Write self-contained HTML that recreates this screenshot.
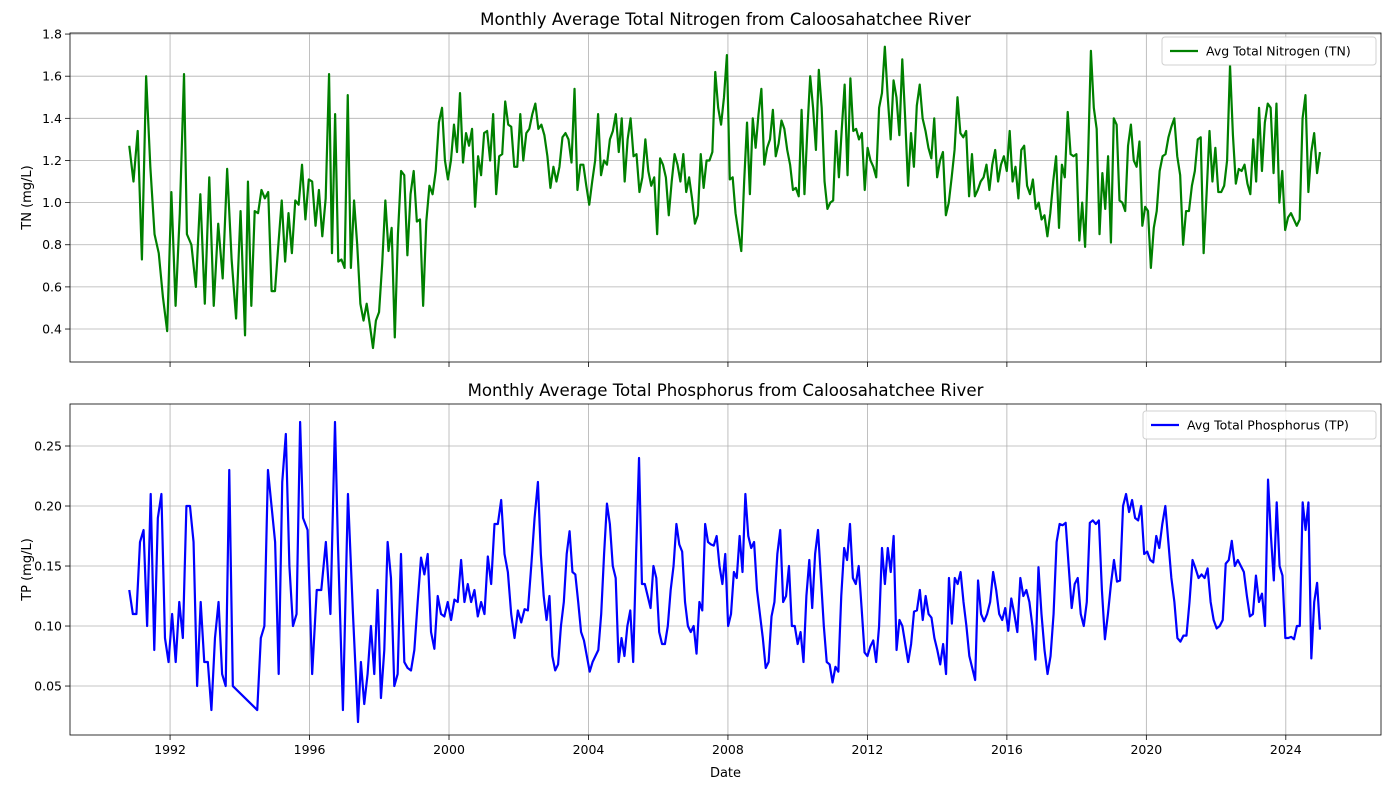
<!DOCTYPE html>
<html><head><meta charset="utf-8">
<style>
html,body{margin:0;padding:0;background:#fff;}
svg{display:block;font-family:"DejaVu Sans","Liberation Sans",sans-serif;}
</style></head>
<body>
<svg id="chart" width="1389" height="790" viewBox="0 0 1389 790" xmlns="http://www.w3.org/2000/svg"></svg>
<script>
// ---- data: monthly readings grouped into segments ending at known dates ----
const tnFirstDate = 1990.83;
const tnSegEnds = [1992.4, 1994.15, 1996.56, 1997.82, 1999.8, 2003.6, 2005.97, 2007.97, 2012.5, 2014.25, 2018.41, 2020.13, 2022.4, 2024.98];
const tnSegValues = [
 [1.27,1.10,1.34,0.73,1.60,1.17,0.85,0.76,0.55,0.39,1.05,0.51,0.95,1.61],
 [0.85,0.80,0.60,1.04,0.52,1.12,0.51,0.90,0.64,1.16,0.73,0.45,0.96,0.37],
 [1.10,0.51,0.96,0.95,1.06,1.02,1.05,0.58,0.58,0.80,1.01,0.72,0.95,0.76,1.01,0.99,1.18,0.92,1.11,1.10,0.89,1.06,0.84,1.02,1.61],
 [0.76,1.42,0.72,0.73,0.69,1.51,0.69,1.01,0.80,0.52,0.44,0.52,0.42,0.31],
 [0.44,0.48,0.71,1.01,0.77,0.88,0.36,0.85,1.15,1.13,0.75,1.04,1.15,0.91,0.92,0.51,0.91,1.08,1.04,1.15,1.38,1.45],
 [1.20,1.11,1.20,1.37,1.24,1.52,1.19,1.33,1.27,1.35,0.98,1.22,1.13,1.33,1.34,1.20,1.42,1.04,1.22,1.23,1.48,1.37,1.36,1.17,1.17,1.42,1.20,1.33,1.35,1.42,1.47,1.35,1.37,1.32,1.22,1.07,1.17,1.10,1.17,1.31,1.33,1.30,1.19,1.54],
 [1.06,1.18,1.18,1.08,0.99,1.10,1.20,1.42,1.13,1.20,1.18,1.30,1.34,1.42,1.24,1.40,1.10,1.30,1.40,1.22,1.23,1.05,1.12,1.30,1.15,1.08,1.12,0.85],
 [1.21,1.18,1.12,0.94,1.10,1.23,1.18,1.10,1.23,1.05,1.12,1.02,0.90,0.94,1.23,1.07,1.20,1.20,1.24,1.62,1.45,1.37,1.50,1.70],
 [1.11,1.12,0.95,0.86,0.77,1.10,1.38,1.04,1.40,1.26,1.42,1.54,1.18,1.26,1.30,1.44,1.22,1.28,1.39,1.35,1.25,1.18,1.06,1.07,1.03,1.44,1.04,1.34,1.60,1.45,1.25,1.63,1.45,1.10,0.97,1.00,1.01,1.34,1.12,1.35,1.56,1.13,1.59,1.34,1.35,1.30,1.33,1.06,1.26,1.20,1.17,1.12,1.45,1.52,1.74],
 [1.50,1.30,1.58,1.50,1.32,1.68,1.40,1.08,1.33,1.17,1.46,1.56,1.40,1.34,1.26,1.21,1.40,1.12,1.20,1.24,0.94],
 [1.00,1.12,1.25,1.50,1.33,1.31,1.34,1.03,1.23,1.03,1.06,1.10,1.12,1.18,1.06,1.18,1.25,1.10,1.18,1.22,1.15,1.34,1.10,1.17,1.02,1.25,1.27,1.08,1.04,1.11,0.97,1.00,0.92,0.94,0.84,0.95,1.10,1.22,0.88,1.18,1.12,1.43,1.23,1.22,1.23,0.82,1.00,0.79,1.20,1.72],
 [1.45,1.35,0.85,1.14,0.97,1.22,0.81,1.40,1.37,1.01,1.00,0.96,1.27,1.37,1.20,1.17,1.29,0.89,0.98,0.96,0.69],
 [0.88,0.96,1.15,1.22,1.23,1.31,1.36,1.40,1.22,1.13,0.80,0.96,0.96,1.08,1.15,1.30,1.31,0.76,1.04,1.34,1.10,1.26,1.05,1.05,1.08,1.20,1.65],
 [1.32,1.09,1.16,1.15,1.18,1.09,1.04,1.30,1.10,1.45,1.15,1.38,1.47,1.45,1.14,1.47,1.00,1.15,0.87,0.93,0.95,0.92,0.89,0.92,1.40,1.51,1.05,1.24,1.33,1.14,1.24]
];
const tpFirstDate = 1990.83;
const tpGapResumeDate = 1994.5;
const tpSegEnds = [1993.8, 1995.73, 1996.73, 1997.39, 2002.55, 2004.53, 2005.45, 2008.5, 2011.5, 2015.09, 2023.49, 2024.98];
const tpSegValues = [
 [0.13,0.11,0.11,0.17,0.18,0.10,0.21,0.08,0.19,0.21,0.09,0.07,0.11,0.07,0.12,0.09,0.20,0.20,0.17,0.05,0.12,0.07,0.07,0.03,0.09,0.12,0.06,0.05,0.23,0.05],
 [0.03,0.09,0.10,0.23,0.20,0.17,0.06,0.22,0.26,0.15,0.10,0.11,0.27],
 [0.19,0.18,0.06,0.13,0.13,0.17,0.11,0.27],
 [0.17,0.03,0.21,0.11,0.02],
 [0.07,0.035,0.06,0.10,0.06,0.13,0.04,0.08,0.17,0.14,0.05,0.06,0.16,0.07,0.065,0.063,0.08,0.12,0.157,0.143,0.16,0.095,0.081,0.125,0.11,0.108,0.12,0.105,0.122,0.12,0.155,0.12,0.135,0.12,0.13,0.108,0.12,0.11,0.158,0.135,0.185,0.185,0.205,0.16,0.145,0.11,0.09,0.113,0.103,0.114,0.113,0.15,0.19,0.22],
 [0.16,0.125,0.105,0.125,0.075,0.063,0.068,0.10,0.12,0.16,0.179,0.145,0.143,0.12,0.095,0.088,0.075,0.062,0.07,0.075,0.08,0.11,0.16,0.202],
 [0.185,0.15,0.14,0.07,0.09,0.075,0.10,0.113,0.07,0.16,0.24],
 [0.135,0.135,0.125,0.115,0.15,0.14,0.095,0.085,0.085,0.10,0.13,0.15,0.185,0.168,0.162,0.12,0.10,0.095,0.10,0.077,0.12,0.113,0.185,0.17,0.168,0.167,0.175,0.15,0.135,0.16,0.10,0.11,0.145,0.14,0.175,0.145,0.21],
 [0.175,0.165,0.17,0.13,0.11,0.09,0.065,0.07,0.108,0.12,0.16,0.18,0.12,0.125,0.15,0.10,0.10,0.085,0.095,0.07,0.125,0.155,0.115,0.16,0.18,0.14,0.10,0.07,0.068,0.053,0.066,0.062,0.125,0.165,0.155,0.185],
 [0.14,0.135,0.15,0.115,0.078,0.075,0.083,0.088,0.07,0.10,0.165,0.135,0.165,0.145,0.175,0.08,0.105,0.10,0.085,0.07,0.085,0.112,0.113,0.13,0.105,0.125,0.11,0.107,0.09,0.08,0.068,0.085,0.06,0.14,0.102,0.14,0.135,0.145,0.12,0.10,0.075,0.065,0.055],
 [0.138,0.11,0.104,0.11,0.12,0.145,0.13,0.11,0.105,0.115,0.096,0.123,0.11,0.095,0.14,0.125,0.13,0.12,0.10,0.072,0.149,0.11,0.08,0.06,0.075,0.11,0.17,0.185,0.184,0.186,0.15,0.115,0.135,0.14,0.11,0.10,0.12,0.186,0.188,0.185,0.188,0.13,0.089,0.11,0.135,0.155,0.137,0.138,0.20,0.21,0.195,0.205,0.19,0.188,0.20,0.16,0.162,0.155,0.153,0.175,0.165,0.185,0.20,0.17,0.14,0.12,0.09,0.087,0.092,0.092,0.12,0.155,0.148,0.14,0.143,0.14,0.148,0.12,0.105,0.098,0.10,0.105,0.152,0.155,0.171,0.15,0.155,0.15,0.145,0.125,0.108,0.11,0.142,0.12,0.127,0.10,0.222],
 [0.175,0.138,0.203,0.15,0.142,0.09,0.09,0.091,0.089,0.10,0.10,0.203,0.18,0.203,0.073,0.12,0.136,0.097]
];
const xTickYears = [1992,1996,2000,2004,2008,2012,2016,2020,2024];
const tnTicks = [0.4,0.6,0.8,1.0,1.2,1.4,1.6,1.8];
const tpTicks = [0.05,0.10,0.15,0.20,0.25];

// ---- layout ----
const NS = "http://www.w3.org/2000/svg";
const svg = document.getElementById('chart');
const L = 70, R = 1381;
const xMin = 1989.13, xMax = 2026.73;
function xs(t){ return L + (t - xMin) / (xMax - xMin) * (R - L); }
const topP = {y0:33, y1:362, vMin:0.2435, vMax:1.805};
const botP = {y0:404, y1:735, vMin:0.0092, vMax:0.285};
function ys(p, v){ return p.y1 - (v - p.vMin) / (p.vMax - p.vMin) * (p.y1 - p.y0); }
function mk(tag, attrs, parent){ const e = document.createElementNS(NS, tag); for (const k in attrs) e.setAttribute(k, attrs[k]); (parent||svg).appendChild(e); return e; }
function txt(s, attrs, parent){ const e = mk('text', attrs, parent); e.textContent = s; return e; }

function panel(p, ticks, fmt, title, ylabel, name, showXLabels){
  const g = mk('g', {});
  
  
  xTickYears.forEach(yr => {
    const x = xs(yr);
    const gl = mk('line', {x1:x, x2:x, y1:p.y0, y2:p.y1, stroke:'#b0b0b0', 'stroke-width':0.8}, g);
    
    
    mk('line', {x1:x, x2:x, y1:p.y1, y2:p.y1+5, stroke:'#000', 'stroke-width':0.8}, g);
    if (showXLabels){
      const t = txt(String(yr), {x:x, y:p.y1+19, 'font-size':12.5, 'text-anchor':'middle', fill:'#000'}, g);
      
      
    }
  });
  ticks.forEach(v => {
    const y = ys(p, v);
    const gl = mk('line', {x1:L, x2:R, y1:y, y2:y, stroke:'#b0b0b0', 'stroke-width':0.8}, g);
    
    
    mk('line', {x1:L-5, x2:L, y1:y, y2:y, stroke:'#000', 'stroke-width':0.8}, g);
    const t = txt(fmt(v), {x:L-8, y:y+4.5, 'font-size':12.5, 'text-anchor':'end', fill:'#000'}, g);
    
    
  });
  const frame = mk('rect', {x:L, y:p.y0, width:R-L, height:p.y1-p.y0, fill:'none', stroke:'#000', 'stroke-width':0.8}, g);
  
  
  const tt = txt(title, {x:(L+R)/2, y:p.y0-8, 'font-size':16.6, 'text-anchor':'middle', fill:'#000'}, g);
  
  
  const cy = (p.y0+p.y1)/2;
  const yl = txt(ylabel, {x:31, y:cy, 'font-size':13, 'text-anchor':'middle', transform:'rotate(-90 31 '+cy+')', fill:'#000'}, g);
  
  
  return g;
}

// segment k runs from (previous end + 1 month) to its end date; optional override for segment 1 start (data gap)
function line(p, segVals, segEnds, firstDate, resumeDate, color, name){
  const pts = [];
  let start = firstDate;
  segVals.forEach((vals, k) => {
    if (k === 1 && resumeDate !== null) start = resumeDate;
    const end = segEnds[k], n = vals.length;
    vals.forEach((v, i) => {
      const t = n > 1 ? start + (end - start) * i / (n - 1) : end;
      pts.push(xs(t).toFixed(2) + ',' + ys(p, v).toFixed(2));
    });
    start = end + 1/12;
  });
  const pl = mk('polyline', {points:pts.join(' '), fill:'none', stroke:color, 'stroke-width':2.2, 'stroke-linejoin':'round'});
  
  
}

function legend(x, y, w, color, label, name){
  const g = mk('g', {});
  
  
  mk('rect', {x:x, y:y, width:w, height:28, rx:3, fill:'#fff', 'fill-opacity':0.85, stroke:'#d0d0d0', 'stroke-width':1}, g);
  mk('line', {x1:x+8, x2:x+36, y1:y+14, y2:y+14, stroke:color, 'stroke-width':2.2}, g);
  txt(label, {x:x+44, y:y+18.5, 'font-size':12.5, fill:'#000'}, g);
}

panel(topP, tnTicks, v => v.toFixed(1), 'Monthly Average Total Nitrogen from Caloosahatchee River', 'TN (mg/L)', 'tn', false);
panel(botP, tpTicks, v => v.toFixed(2), 'Monthly Average Total Phosphorus from Caloosahatchee River', 'TP (mg/L)', 'tp', true);
line(topP, tnSegValues, tnSegEnds, tnFirstDate, null, '#008000', 'tn-line');
line(botP, tpSegValues, tpSegEnds, tpFirstDate, tpGapResumeDate, '#0000ff', 'tp-line');
legend(1162, 37, 214, '#008000', 'Avg Total Nitrogen (TN)', 'tn-legend');
legend(1143, 411, 233, '#0000ff', 'Avg Total Phosphorus (TP)', 'tp-legend');
const xl = txt('Date', {x:(L+R)/2, y:777, 'font-size':13, 'text-anchor':'middle', fill:'#000'});


</script>
</body></html>
